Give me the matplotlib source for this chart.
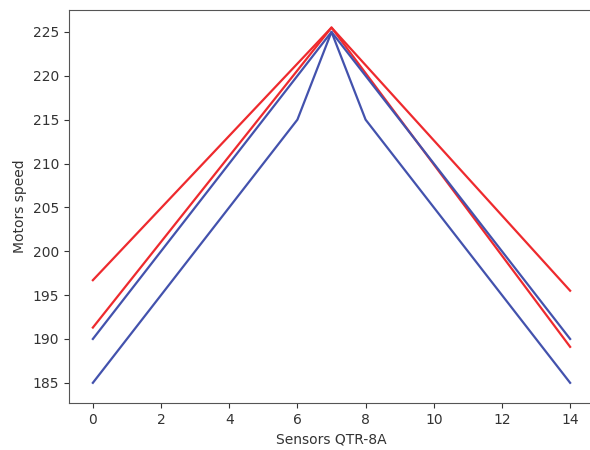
import matplotlib
matplotlib.use("Agg")
import matplotlib.pyplot as plt

# Sensor positions and motor speeds
sensors = [0, 7, 14]
sensors_inner = [0, 6, 7, 8, 14]

red_outer = [196.7, 225.5, 195.5]
red_inner = [191.3, 225.5, 189.1]
blue_outer = [190.0, 225.0, 190.0]
blue_inner = [185.0, 215.0, 225.0, 215.0, 185.0]

RED = "#ee2a2e"
BLUE = "#4352ad"

fig = plt.figure(figsize=(5.9, 4.5), dpi=100)
ax = fig.add_axes([69 / 590, 47 / 450, 525 / 590, 393 / 450])

ax.plot(sensors, red_outer, color=RED, lw=1.6)
ax.plot(sensors, red_inner, color=RED, lw=1.6)
ax.plot(sensors, blue_outer, color=BLUE, lw=1.6)
ax.plot(sensors_inner, blue_inner, color=BLUE, lw=1.6)

ax.set_xlim(-0.7, 14.7)
ax.set_ylim(182.7, 227.5)
ax.set_xticks(range(0, 15, 2))
ax.set_yticks(range(185, 226, 5))

ax.set_xlabel("Sensors QTR-8A", color="#333333")
ax.set_ylabel("Motors speed", color="#333333")
ax.tick_params(colors="#333333", labelcolor="#333333")
for s in ax.spines.values():
    s.set_color("#555555")

fig.savefig("out.png", dpi=100)
